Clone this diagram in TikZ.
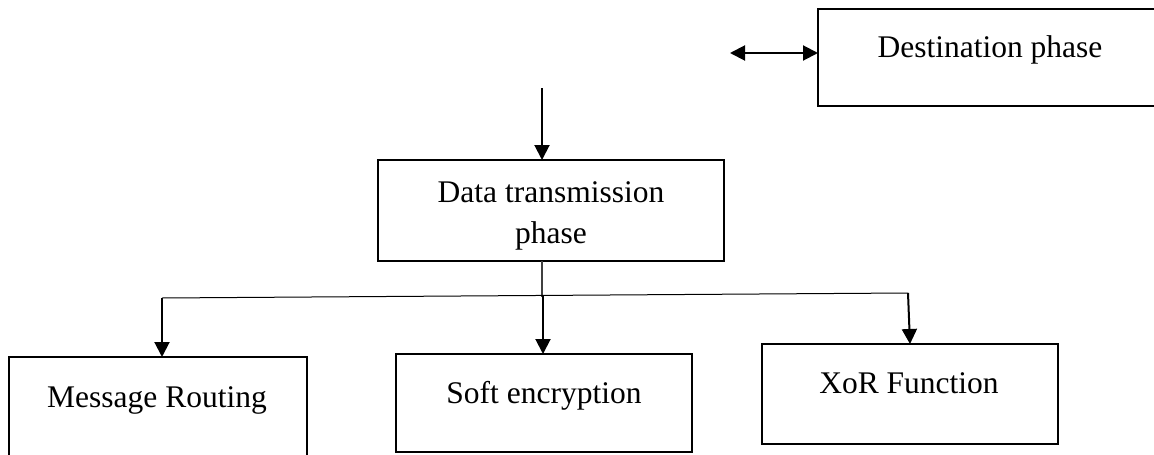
\documentclass[tikz,border=0pt]{standalone}
\usepackage{fontspec}
\setmainfont{Liberation Serif}
\usetikzlibrary{arrows.meta}
\begin{document}
\begin{tikzpicture}[x=1pt,y=-1pt,
  phasebox/.style={draw=black,line width=2.3pt,inner sep=0pt,outer sep=0pt},
  lbl/.style={anchor=base,inner sep=0pt,font=\fontsize{31.5}{41}\selectfont,align=center},
  feed/.style={line width=2pt,-{Triangle[width=15pt,length=15pt]}},
  both/.style={line width=2pt,{Triangle[width=15pt,length=15pt]}-{Triangle[width=15pt,length=15pt]}},
  bus/.style={line width=1pt}]
\useasboundingbox (0,0) rectangle (1154,455);
\clip (0,0) rectangle (1154,455);
\fill[white] (0,0) rectangle (1154,455);

% boxes
\node[phasebox,minimum width=342pt,minimum height=97pt] (dest) at (989,57.5) {};
\node[phasebox,minimum width=346pt,minimum height=101pt] (data) at (551,210.5) {};
\node[phasebox,minimum width=298pt,minimum height=130pt] (msg) at (158,422) {};
\node[phasebox,minimum width=296pt,minimum height=98pt] (soft) at (544,403) {};
\node[phasebox,minimum width=296pt,minimum height=100pt] (xor) at (910,394) {};

% labels (base of a two-line label is its last line)
\node[lbl] (tdest) at (990,57) {Destination phase};
\node[lbl] (tdata) at (551,243) {Data transmission\\phase};
\node[lbl] (tmsg) at (157,407) {Message Routing};
\node[lbl] (tsoft) at (544,403) {Soft encryption};
\node[lbl] (txor) at (909,393) {XoR Function};

% connector points
\coordinate (in) at (542,88);
\coordinate (left) at (730,53);
\coordinate (stem) at (542,297);
\coordinate (busL) at (162,298);
\coordinate (busM) at (543,296);
\coordinate (busR) at (908,293);

% connectors
\draw[both] (left) -- (left -| dest.west);
\draw[feed] (in) -- (in |- data.north);
\draw[line width=1.2pt,black!75] (in |- data.south) -- (stem);
\draw[bus] (busL) -- (busR);
\draw[feed] (busL) -- (busL |- msg.north);
\draw[feed] (busM) -- (busM |- soft.north);
\draw[feed] (busR) -- ([xshift=2pt]busR |- xor.north);
\end{tikzpicture}
\end{document}
